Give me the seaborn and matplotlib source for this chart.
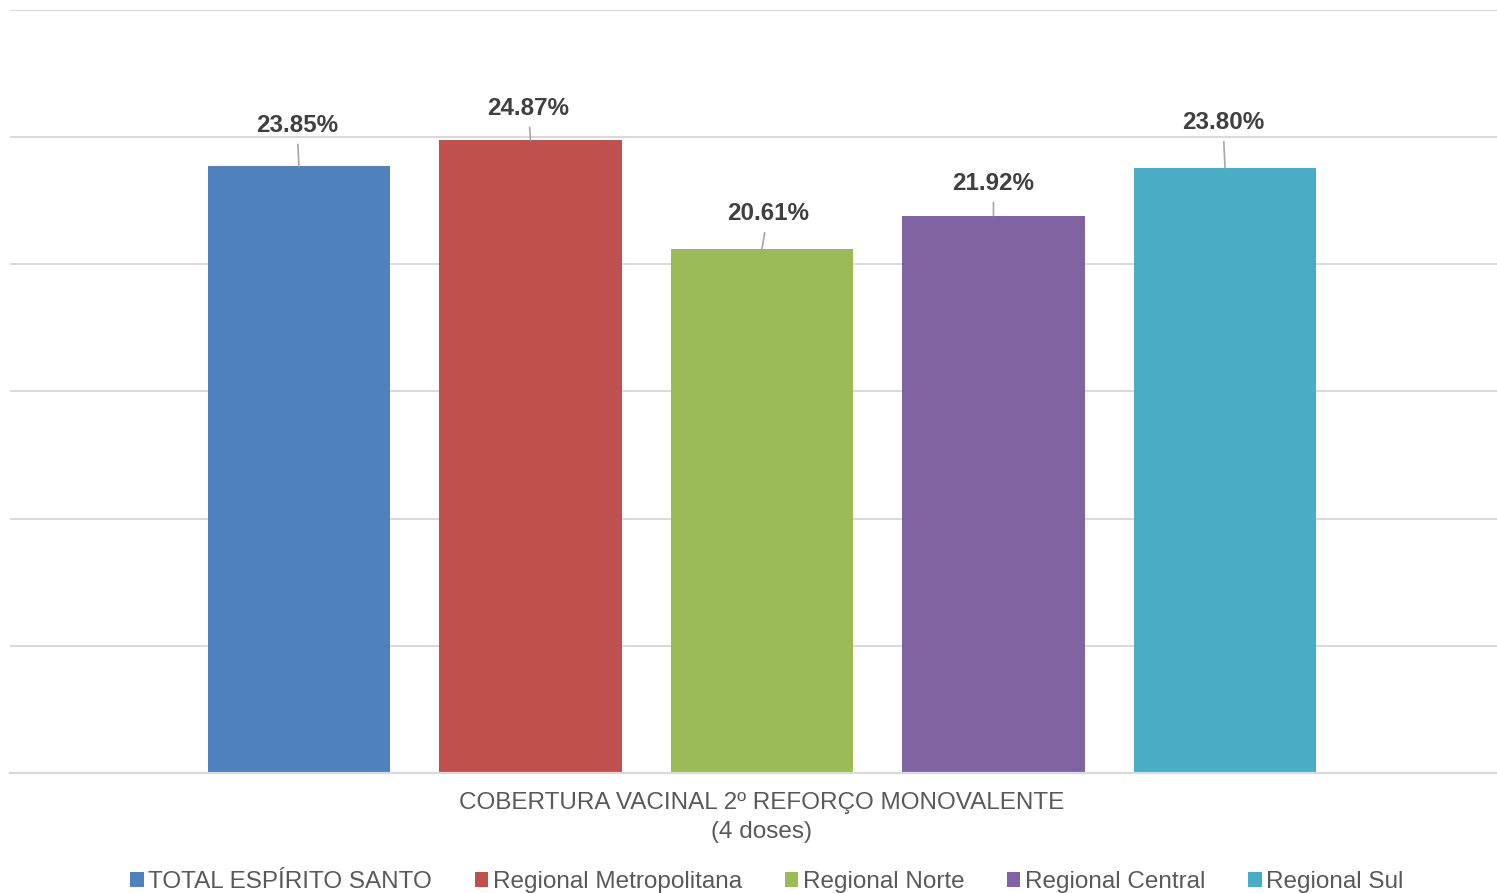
import matplotlib
matplotlib.use("Agg")
import matplotlib.pyplot as plt
import seaborn as sns
import pandas as pd

categoria = "COBERTURA VACINAL 2º REFORÇO MONOVALENTE\n(4 doses)"
regioes = ["TOTAL ESPÍRITO SANTO", "Regional Metropolitana", "Regional Norte",
           "Regional Central", "Regional Sul"]
valores = [23.85, 24.87, 20.61, 21.92, 23.80]
rotulos = ["23.85%", "24.87%", "20.61%", "21.92%", "23.80%"]
cores = ["#4F81BD", "#C0504D", "#9BBB59", "#8064A2", "#4BACC6"]

# label offsets (pixels) from bar top
offsets = [(-2, 41), (-2, 32), (6, 35), (0, 32), (-2, 45)]

df = pd.DataFrame({"cat": [categoria] * len(regioes), "regiao": regioes, "valor": valores})

sns.set_style("white")
plt.rcParams["font.family"] = ["Liberation Sans", "DejaVu Sans"]

fig = plt.figure(figsize=(14.97, 8.93), dpi=100)
ax = fig.add_axes([10 / 1497, 120 / 893, 1 - 10 / 1497, 763 / 893])

sns.barplot(data=df, x="cat", y="valor", hue="regiao", hue_order=regioes,
            palette=cores, width=0.8, gap=0.21, saturation=1, ax=ax,
            legend=True, errorbar=None, linewidth=0)

ax.set_ylim(0, 30)
ax.set_xlim(-0.5197, 0.508)
ax.set_yticks([0, 5, 10, 15, 20, 25, 30])
ax.yaxis.grid(True, color="#D9D9D9", linewidth=1.4)
ax.set_axisbelow(True)
ax.tick_params(axis="y", left=False, labelleft=False)
ax.tick_params(axis="x", bottom=False, labelsize=17.5, labelcolor="#595959", pad=10)
for s in ["top", "right", "left"]:
    ax.spines[s].set_visible(False)
ax.spines["bottom"].set_color("#D9D9D9")
ax.spines["bottom"].set_linewidth(1.6)
ax.set_xlabel("")
ax.set_ylabel("")
for t in ax.get_xticklabels():
    t.set_linespacing(1.4)

patches = [p for p in ax.patches if p.get_height() > 0]
patches.sort(key=lambda p: p.get_x())
for p, lab, (dx, dy) in zip(patches, rotulos, offsets):
    xc = p.get_x() + p.get_width() / 2
    yt = p.get_height()
    ax.annotate(lab, xy=(xc, yt), xytext=(dx, dy), textcoords="offset pixels",
                ha="center", va="center", fontsize=17.4, fontweight="bold",
                color="#404040",
                arrowprops=dict(arrowstyle="-", color="#A6A6A6", lw=1.2,
                                shrinkA=3, shrinkB=0))

leg = ax.get_legend()
handles = leg.legend_handles
ax.get_legend().remove()
fig.legend(handles, regioes, loc="center", bbox_to_anchor=(767 / 1497, 11 / 893),
           ncol=5, frameon=False, fontsize=17.5, handlelength=0.55, handleheight=0.55,
           handletextpad=0.2, columnspacing=1.75, labelcolor="#595959")

fig.savefig("out.png", dpi=100)
